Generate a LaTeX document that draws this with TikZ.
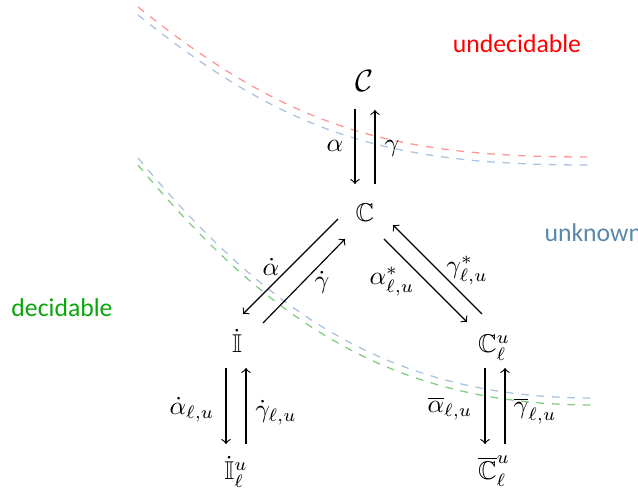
\documentclass[tikz,border=0pt]{standalone}
\usepackage{amssymb}
\usepackage{fontspec}
\newfontfamily\carlito{Carlito}
\usetikzlibrary{calc}
\definecolor{undec}{RGB}{255,0,0}
\definecolor{unk}{RGB}{88,136,172}
\definecolor{dec}{RGB}{10,165,10}
\definecolor{redc}{RGB}{255,150,150}
\definecolor{bluec}{RGB}{170,195,222}
\definecolor{greenc}{RGB}{130,205,130}
\begin{document}
\begin{tikzpicture}[x=0.389pt,y=-0.389pt,
  obj/.style={anchor=base, inner sep=0pt},
  lab/.style={anchor=base, inner sep=0pt},
  arr/.style={->, line width=0.45pt},
  bound/.style={dashed, line width=0.5pt},
  word/.style={anchor=base, inner sep=0pt, font=\carlito}]
\clip (0,0) rectangle (638,493);
\useasboundingbox (0,0) rectangle (638,493);
% boundaries
\draw[bound, redc] (138,7) .. controls (288,127) and (388,157) .. (588,157);
\draw[bound, bluec] (138,15) .. controls (288,135) and (388,165) .. (588,165);
\draw[bound, bluec] (138,158) .. controls (268,314) and (392,398) .. (592,398);
\draw[bound, greenc] (138,165) .. controls (268,321) and (392,405) .. (592,405);
% objects
\node[obj] (calC) at (365,92) {\fontsize{12}{14}\selectfont$\mathcal{C}$};
\node[obj] (bbC) at (365,222) {$\mathbb{C}$};
\node[obj] (dI) at (237,353) {$\dot{\mathbb{I}}$};
\node[obj] (Clu) at (494,353) {$\mathbb{C}_\ell^u$};
\node[obj] (dIlu) at (236,480) {$\dot{\mathbb{I}}_\ell^u$};
\node[obj] (Cb) at (494,480) {$\overline{\mathbb{C}}_\ell^u$};
% arrows
\draw[arr] ($(calC.base)+(-10,17)$) -- ($(bbC.base)+(-10,-38)$);
\draw[arr] ($(bbC.base)+(10,-38)$) -- ($(calC.base)+(10,18)$);
\draw[arr] ($(bbC.base)+(-27,-3)$) -- ($(dI.base)+(6,-39)$);
\draw[arr] ($(dI.base)+(26,-30)$) -- ($(bbC.base)+(-20,17)$);
\draw[arr] ($(bbC.base)+(19,17)$) -- ($(Clu.base)+(-27,-31)$);
\draw[arr] ($(Clu.base)+(-12,-39)$) -- ($(bbC.base)+(28,3)$);
\draw[arr] ($(dI.base)+(-11,15)$) -- ($(dIlu.base)+(-10,-36)$);
\draw[arr] ($(dIlu.base)+(10,-36)$) -- ($(dI.base)+(9,15)$);
\draw[arr] ($(Clu.base)+(-9,15)$) -- ($(Cb.base)+(-9,-36)$);
\draw[arr] ($(Cb.base)+(11,-36)$) -- ($(Clu.base)+(11,15)$);
% labels
\node[lab] (la) at (335,152) {$\alpha$};
\node[lab] (lg) at (392,152) {$\gamma$};
\node[lab] (lad) at (271,276) {$\dot{\alpha}$};
\node[lab] (lgd) at (322,289) {$\dot{\gamma}$};
\node[lab] (las) at (392,285) {$\alpha^*_{\ell,u}$};
\node[lab] (lgs) at (467,274) {$\gamma^*_{\ell,u}$};
\node[lab] (ladl) at (192,415) {$\dot{\alpha}_{\ell,u}$};
\node[lab] (lgdl) at (276,418) {$\dot{\gamma}_{\ell,u}$};
\node[lab] (lab) at (450,413) {$\overline{\alpha}_{\ell,u}$};
\node[lab] (lgb) at (535,414) {$\overline{\gamma}_{\ell,u}$};
% region words
\node[word, text=undec] (tU) at (517,53) {undecidable};
\node[word, anchor=base west, text=unk] (tK) at (544,242) {unknown};
\node[word, text=dec] (tD) at (62,317) {decidable};
\end{tikzpicture}
\end{document}
